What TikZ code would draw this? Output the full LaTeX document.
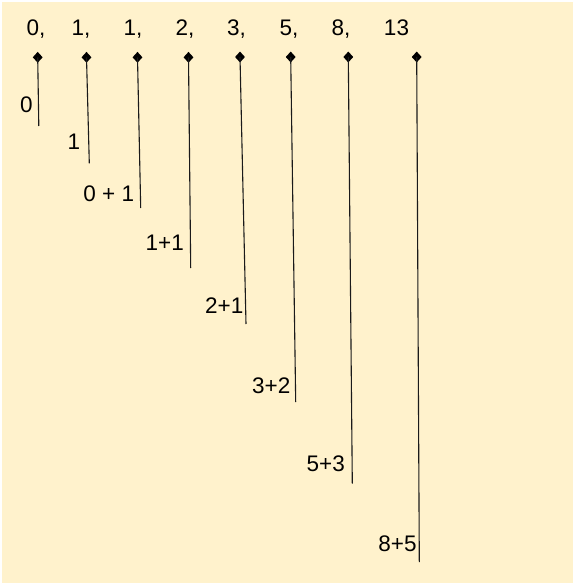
\documentclass[tikz,border=0pt]{standalone}
\usepackage{fontspec}
\setmainfont{Liberation Sans}
\usetikzlibrary{shapes.geometric}
\definecolor{bgyellow}{HTML}{FFF2CC}
\definecolor{lncol}{HTML}{1A1A1A}
\begin{document}
\begin{tikzpicture}[x=1bp,y=-1bp,
  dmd/.style={diamond,fill=black,draw=none,inner sep=0pt,minimum width=10bp,minimum height=11bp},
  ln/.style={draw=lncol,line width=1.1bp},
  lbl/.style={inner sep=0pt,anchor=base,font=\fontsize{22.6}{26}\selectfont}]
\useasboundingbox (0,0) rectangle (575,586);
\fill[bgyellow] (1.5,2.5) rectangle (572.5,582.5);
% top numbers
\node[lbl] (t1) at (36,36) {0,};
\node[lbl] (t2) at (81,36) {1,};
\node[lbl] (t3) at (133,36) {1,};
\node[lbl] (t4) at (185,36) {2,};
\node[lbl] (t5) at (236.5,36) {3,};
\node[lbl] (t6) at (289,36) {5,};
\node[lbl] (t7) at (341,36) {8,};
\node[lbl] (t8) at (396.5,36) {13};
% diamonds (line starts)
\node[dmd] (s1) at (37.7,57.3) {};
\node[dmd] (s2) at (86.5,57.3) {};
\node[dmd] (s3) at (137.5,57.3) {};
\node[dmd] (s4) at (188.5,57.3) {};
\node[dmd] (s5) at (240,57) {};
\node[dmd] (s6) at (290.7,57) {};
\node[dmd] (s7) at (348.3,57) {};
\node[dmd] (s8) at (416.7,57) {};
% line ends
\coordinate (e1) at (38.8,126);
\coordinate (e2) at (89.3,163.3);
\coordinate (e3) at (140.7,208);
\coordinate (e4) at (190.7,268);
\coordinate (e5) at (246,324);
\coordinate (e6) at (295.7,402);
\coordinate (e7) at (352.3,483.5);
\coordinate (e8) at (419.3,562);
\foreach \i in {1,...,8}{\draw[ln] (s\i.center) -- (e\i);}
% bottom labels
\node[lbl] (b1) at (26.5,113) {0};
\node[lbl] (b2) at (74,150) {1};
\node[lbl] (b3) at (108.8,201.5) {0 + 1};
\node[lbl] (b4) at (164.8,250.5) {1+1};
\node[lbl] (b5) at (224.2,313.3) {2+1};
\node[lbl] (b6) at (271.2,393.3) {3+2};
\node[lbl] (b7) at (325.8,471.7) {5+3};
\node[lbl] (b8) at (397.5,551.7) {8+5};
\end{tikzpicture}
\end{document}
